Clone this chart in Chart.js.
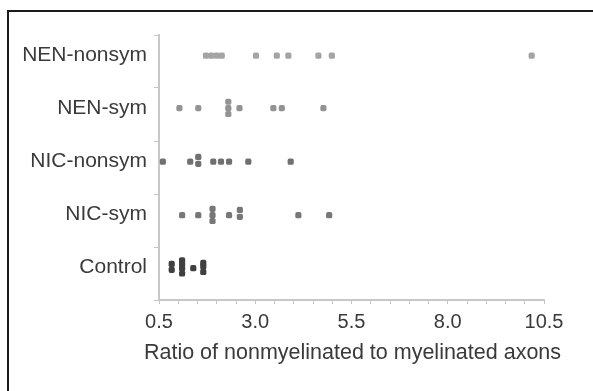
<!DOCTYPE html>
<html>
<head>
<meta charset="utf-8">
<script src="https://cdn.jsdelivr.net/npm/chart.js@4"></script>
<style>
  body { margin: 0; background: #fff; overflow: hidden; }
  #frame { position: absolute; left: 7px; top: 10px; width: 600px; height: 400px;
    border-left: 2px solid #1a1a1a; border-top: 2px solid #1a1a1a; pointer-events: none; }
  canvas { position: absolute; left: 0; top: 0; }
</style>
</head>
<body>
<canvas id="myChart" width="593" height="391"></canvas>
<div id="frame"></div>
<script>
const categories = ["Control", "NIC-sym", "NIC-nonsym", "NEN-sym", "NEN-nonsym"];
const xTicks = [0.5, 3.0, 5.5, 8.0, 10.5];
const xTitle = "Ratio of nonmyelinated to myelinated axons";

// ratio values; y = row number plus the small stacking offset seen in the picture
const controlX = [0.83, 0.83, 1.10, 1.10, 1.10, 1.10, 1.39, 1.65, 1.65, 1.65];
const controlY = [1.18, 1.07, 1.25, 1.18, 1.10, 1.00, 1.10, 1.20, 1.13, 1.03];

const nicSymX = [1.10, 1.52, 1.89, 1.89, 1.89, 2.32, 2.60, 2.60, 4.12, 4.92];
const nicSymY = [2.10, 2.10, 2.22, 2.10, 1.99, 2.10, 2.20, 2.07, 2.10, 2.10];

const nicNonsymX = [0.60, 1.31, 1.52, 1.52, 1.91, 2.11, 2.32, 2.82, 3.92];
const nicNonsymY = [3.11, 3.11, 3.20, 3.07, 3.11, 3.11, 3.11, 3.11, 3.11];

const nenSymX = [1.03, 1.52, 2.30, 2.30, 2.30, 2.59, 3.47, 3.69, 4.77];
const nenSymY = [4.12, 4.12, 4.24, 4.12, 4.01, 4.12, 4.12, 4.12, 4.12];

const nenNonsymX = [1.72, 1.86, 2.00, 2.13, 3.02, 3.56, 3.86, 4.64, 4.99, 10.18];
const nenNonsymY = [5.11, 5.11, 5.11, 5.11, 5.11, 5.11, 5.11, 5.11, 5.11, 5.11];

function points(xs, ys) {
  return xs.map(function (x, i) {
    return { x: x, y: ys[i] };
  });
}

function group(label, xs, ys, color) {
  return {
    label: label,
    data: points(xs, ys),
    backgroundColor: color,
    borderColor: color,
    borderWidth: 0,
    pointStyle: "rectRounded",
    pointRadius: 3.6,
  };
}

const datasets = [
  group("Control", controlX, controlY, "#404040"),
  group("NIC-sym", nicSymX, nicSymY, "#777777"),
  group("NIC-nonsym", nicNonsymX, nicNonsymY, "#707070"),
  group("NEN-sym", nenSymX, nenSymY, "#939393"),
  group("NEN-nonsym", nenNonsymX, nenNonsymY, "#a4a4a4"),
];

// the axis title in the picture is wider than the axis, so the scale title
// (clipped to the axis width) would squeeze it; draw it under the ticks instead
const axisTitle = {
  id: "axisTitle",
  afterDraw(chart) {
    const ctx = chart.ctx;
    const area = chart.chartArea;
    ctx.save();
    ctx.font = "21.5px 'Liberation Sans'";
    ctx.fillStyle = "#3a3a3a";
    ctx.textAlign = "center";
    ctx.textBaseline = "middle";
    ctx.fillText(xTitle, (area.left + area.right) / 2 + 1, area.bottom + 53);
    ctx.restore();
  },
};

const config = {
  type: "scatter",
  data: { datasets },
  plugins: [axisTitle],
  options: {
    responsive: false,
    animation: false,
    layout: { padding: { left: 0, right: 49, top: 35, bottom: 20 } },
    plugins: { legend: { display: false }, tooltip: { enabled: false } },
    scales: {
      x: {
        type: "linear",
        min: 0.5,
        max: 10.5,
        border: { color: "#c8c8c8", width: 2 },
        grid: { drawOnChartArea: false, tickLength: 4, tickColor: "#c4c4c4" },
        ticks: {
          stepSize: 0.5,
          autoSkip: false,
          maxRotation: 0,
          padding: 6,
          color: "#3a3a3a",
          font: { family: "Liberation Sans", size: 20 },
          callback: function (v) {
            return xTicks.includes(v) ? v.toFixed(1) : "";
          },
        },
        afterFit: function (s) { s.height = 71; },
      },
      y: {
        type: "linear",
        min: 0.5,
        max: 5.5,
        border: { color: "#c8c8c8", width: 2 },
        grid: {
          drawOnChartArea: false,
          tickLength: 5,
          tickColor: function (ctx) {
            return ctx.tick && Number.isInteger(ctx.tick.value) ? "rgba(0,0,0,0)" : "#c4c4c4";
          },
        },
        ticks: {
          stepSize: 0.5,
          autoSkip: false,
          padding: 7,
          labelOffset: -6,
          color: "#3a3a3a",
          font: { family: "Liberation Sans", size: 21 },
          callback: function (v) {
            return Number.isInteger(v) ? categories[v - 1] : "";
          },
        },
        afterFit: function (s) { s.width = 159; },
      },
    },
  },
};

new Chart(document.getElementById("myChart"), config);
</script>
</body>
</html>
